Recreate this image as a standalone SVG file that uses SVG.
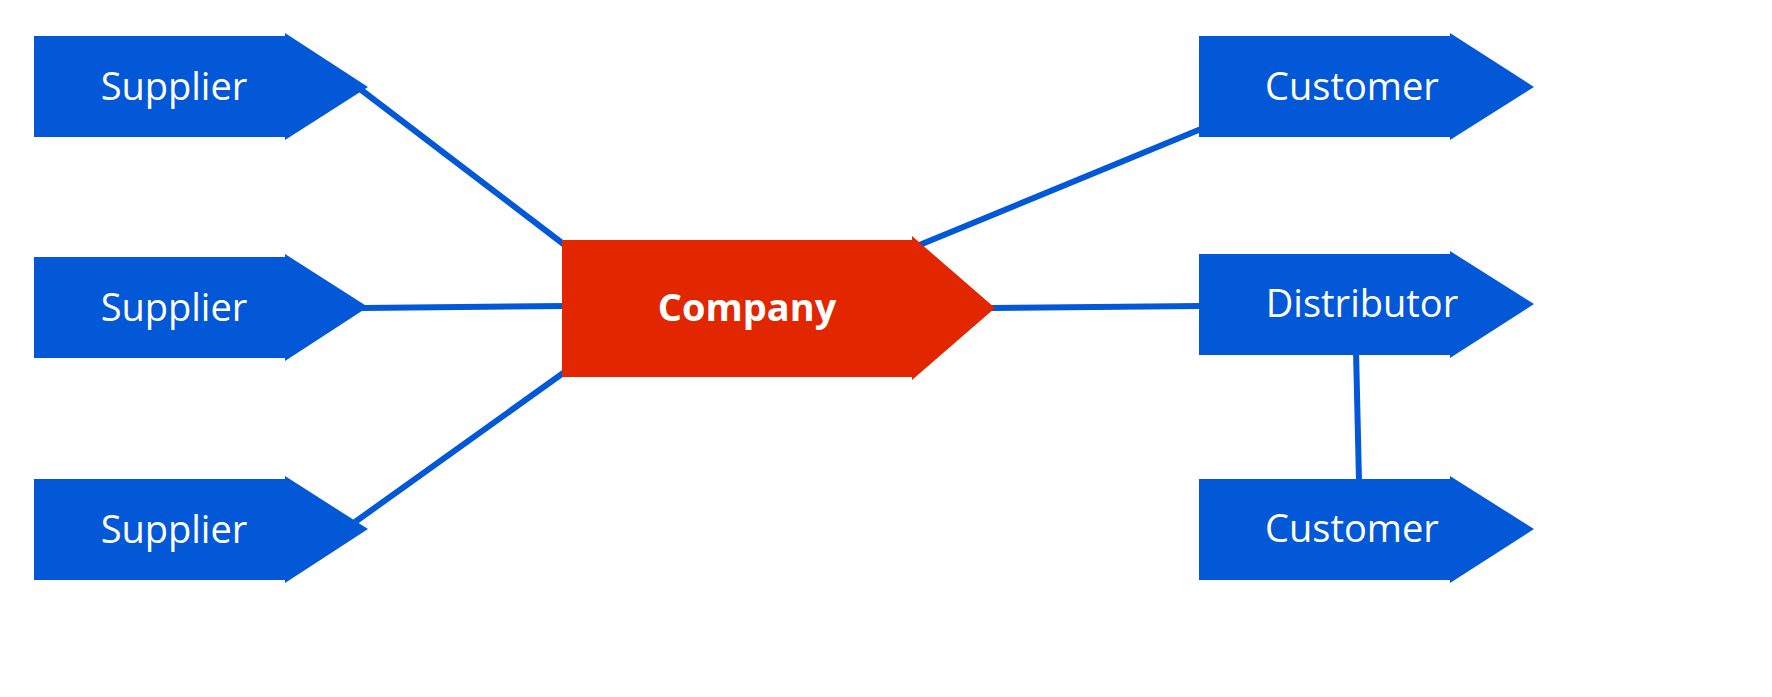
<svg xmlns="http://www.w3.org/2000/svg" width="1772" height="697" viewBox="0 0 1772 697">
<style>
.b{fill:#0358d8}
.r{fill:#e12600}
.t{fill:#fff;font-family:"Open Sans","Liberation Sans",sans-serif;font-size:38px;text-anchor:middle}
.tb{font-weight:bold}
.c{stroke:#0358d8;stroke-width:6;fill:none}
</style>
<rect width="1772" height="697" fill="#fff"/>
<g id="connectors">
<line class="c" x1="360" y1="89" x2="566" y2="246"/>
<line class="c" x1="362" y1="308" x2="566" y2="306"/>
<line class="c" x1="355" y1="522" x2="566" y2="371"/>
<line class="c" x1="917" y1="246" x2="1201" y2="129"/>
<line class="c" x1="990" y1="308" x2="1201" y2="306"/>
<line class="c" x1="1356" y1="350" x2="1359" y2="481"/>
</g>
<g id="supplier1"><polygon class="b" points="34,36 285,36 285,33 368,87 285,140 285,137 34,137"/><text class="t" x="174" y="100">Supplier</text></g>
<g id="supplier2"><polygon class="b" points="34,257 285,257 285,254 368,307 285,361 285,358 34,358"/><text class="t" x="174" y="321">Supplier</text></g>
<g id="supplier3"><polygon class="b" points="34,479 285,479 285,476 368,529 285,583 285,580 34,580"/><text class="t" x="174" y="543">Supplier</text></g>
<g id="company"><polygon class="r" points="562,240 912,240 912,236 995,308 912,380 912,377 562,377"/><text class="t tb" x="747" y="321">Company</text></g>
<g id="customer1"><polygon class="b" points="1199,36 1450,36 1450,33 1534,87 1450,140 1450,137 1199,137"/><text class="t" x="1352" y="100">Customer</text></g>
<g id="distributor"><polygon class="b" points="1199,254 1450,254 1450,251 1534,304 1450,358 1450,355 1199,355"/><text class="t" x="1362" y="317">Distributor</text></g>
<g id="customer2"><polygon class="b" points="1199,479 1450,479 1450,476 1534,529 1450,583 1450,580 1199,580"/><text class="t" x="1352" y="542">Customer</text></g>
</svg>
